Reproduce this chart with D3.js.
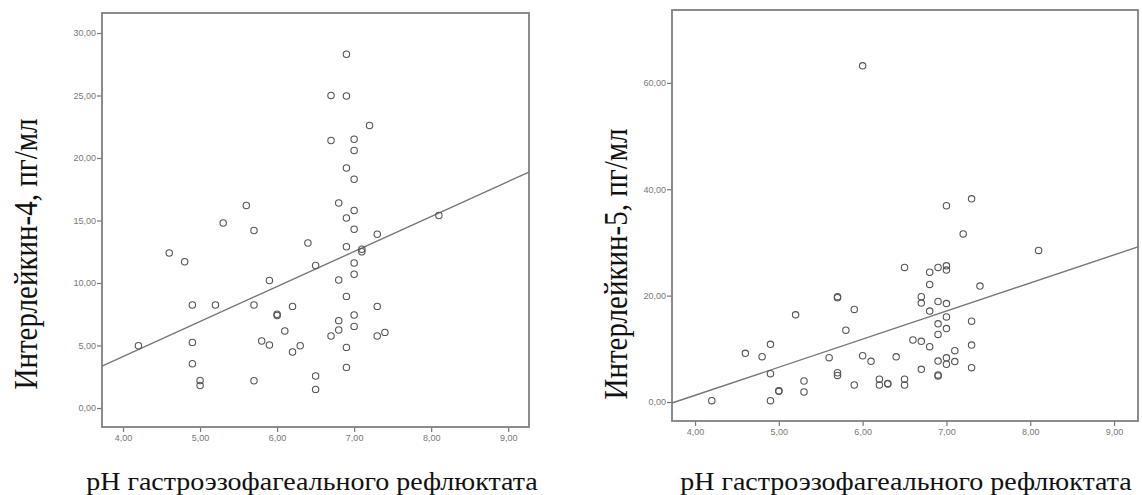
<!DOCTYPE html>
<html lang="ru">
<head>
<meta charset="UTF-8">
<title>Интерлейкины и pH рефлюктата</title>
<style>
  body { margin: 0; background: #fff; }
  .tick text { font-family: "Liberation Sans", Arial, sans-serif; font-size: 9px; fill: #777; }
  .tick line { stroke: #777; stroke-width: 1.2; }
  .frame { fill: none; stroke: #808080; stroke-width: 1.8; }
  .pt { fill: none; stroke: #555; stroke-width: 1.1; }
  .fit { stroke: #777; stroke-width: 1.4; }
  .title { font-family: "Liberation Serif", "Times New Roman", serif; fill: #111; }
</style>
</head>
<body>
<svg width="1142" height="495"></svg>
<script src="https://d3js.org/d3.v7.min.js"></script>
<script>
// pH рефлюктата и ИЛ-4 (левый график)
const il4X = [4.2, 4.6, 4.8, 4.9, 4.9, 4.9, 5.0, 5.0, 5.2, 5.3, 5.6, 5.7, 5.7, 5.7, 5.9, 5.8, 5.9, 6.0, 6.0, 6.1,
              6.2, 6.2, 6.3, 6.4, 6.5, 6.5, 6.5, 6.9, 6.7, 6.9, 7.2, 6.7, 7.0, 7.0, 6.9, 7.0, 6.8, 7.0, 6.9, 7.0,
              7.3, 8.1, 6.9, 7.1, 7.1, 7.0, 6.8, 7.0, 6.9, 7.3, 6.8, 7.0, 6.8, 6.7, 7.0, 7.3, 7.4, 6.9, 6.9];
const il4Y = [4.98, 12.4, 11.7, 8.24, 5.25, 3.54, 2.2, 1.8, 8.24, 14.8, 16.2, 14.2, 8.24, 2.18, 10.2, 5.36, 5.04, 7.5, 7.4, 6.16,
              8.13, 4.48, 4.98, 13.2, 11.4, 2.56, 1.49, 28.3, 25.0, 24.96, 22.6, 21.4, 21.5, 20.6, 19.2, 18.3, 16.4, 15.8, 15.2, 14.3,
              13.9, 15.4, 12.9, 12.7, 12.5, 11.6, 10.24, 10.7, 8.93, 8.13, 6.99, 7.44, 6.24, 5.76, 6.53, 5.76, 6.05, 4.85, 3.25];

// pH рефлюктата и ИЛ-5 (правый график)
const il5X = [4.2, 4.6, 4.8, 4.9, 4.9, 4.9, 5.0, 5.0, 5.2, 5.3, 5.3, 5.6, 5.7, 5.7, 5.7, 5.7, 5.9, 5.8, 5.9, 6.0,
              6.1, 6.2, 6.2, 6.3, 6.3, 6.4, 6.5, 6.5, 6.5, 6.6, 6.7, 6.7, 6.7, 6.7, 6.8, 6.8, 6.8, 6.8, 6.9, 7.0,
              7.0, 6.9, 7.0, 7.0, 6.9, 7.0, 6.9, 6.9, 7.0, 7.0, 7.1, 7.1, 6.9, 6.9, 7.0, 7.3, 7.2, 7.4, 7.3, 7.3,
              7.3, 8.1, 6.0];
const il5Y = [0.25, 9.15, 8.52, 10.85, 5.33, 0.25, 2.0, 2.1, 16.4, 3.95, 1.88, 8.34, 19.8, 19.6, 5.5, 5.0, 17.4, 13.5, 3.2, 8.7,
              7.65, 4.3, 3.2, 3.5, 3.4, 8.5, 25.3, 4.3, 3.2, 11.66, 11.4, 19.8, 18.6, 6.15, 24.4, 22.1, 17.1, 10.4, 25.3, 25.6,
              24.8, 18.9, 18.5, 16.0, 14.7, 13.8, 12.7, 7.7, 8.3, 7.1, 7.6, 9.65, 5.1, 4.9, 36.9, 38.2, 31.6, 21.8, 15.2, 10.7,
              6.45, 28.5, 63.2];

// линии регрессии: [свободный член, наклон]
const il4Fit = [-7.08, 2.80];
const il5Fit = [-19.86, 5.28];

// деления осей
const xTicks = [4, 5, 6, 7, 8, 9];
const il4Ticks = [0, 5, 10, 15, 20, 25, 30];
const il5Ticks = [0, 20, 40, 60];

const xTitle = 'pH гастроэзофагеального рефлюктата';

const svg = d3.select('svg');
const fmt = d => d3.format('.2f')(d).replace('.', ',');

function drawPanel(p) {
  const x = d3.scaleLinear().domain(p.xDomain).range([p.left, p.right]);
  const y = d3.scaleLinear().domain(p.yDomain).range([p.bottom, p.top]);
  const g = svg.append('g');

  g.append('g')
    .attr('transform', `translate(${p.left},0)`)
    .call(d3.axisLeft(y).tickValues(p.yTicks).tickSize(5).tickPadding(1).tickFormat(fmt))
    .call(a => a.select('.domain').remove());

  g.append('g')
    .attr('transform', `translate(0,${p.bottom})`)
    .call(d3.axisBottom(x).tickValues(xTicks).tickSize(5).tickPadding(3).tickFormat(fmt))
    .call(a => a.select('.domain').remove());

  g.append('rect').attr('class', 'frame')
    .attr('x', p.left).attr('y', p.top)
    .attr('width', p.right - p.left).attr('height', p.bottom - p.top);

  // линия регрессии по всей ширине области
  const [b0, b1] = p.fit;
  g.append('line').attr('class', 'fit')
    .attr('x1', x(p.xDomain[0])).attr('y1', y(b0 + b1 * p.xDomain[0]))
    .attr('x2', x(p.xDomain[1])).attr('y2', y(b0 + b1 * p.xDomain[1]));

  g.selectAll('.pt').data(p.xs.map((v, i) => [v, p.ys[i]]))
    .enter().append('circle').attr('class', 'pt')
    .attr('cx', d => x(d[0])).attr('cy', d => y(d[1])).attr('r', 3.2);

  // подпись оси Y немного растянута по ширине, как в исходнике
  g.append('text').attr('class', 'title')
    .attr('transform', `translate(${p.yTitleX},${p.yTitleY}) rotate(-90) scale(1,1.15)`)
    .attr('text-anchor', 'middle').style('font-size', '29px')
    .text(p.yTitle);

  g.append('text').attr('class', 'title')
    .attr('transform', `translate(${p.xTitleX},490) scale(1.12,1)`)
    .attr('text-anchor', 'middle').style('font-size', '25px')
    .text(xTitle);
}

drawPanel({
  left: 102, right: 529, top: 13, bottom: 427,
  xDomain: [3.727, 9.27], yDomain: [-1.52, 31.6],
  yTicks: il4Ticks, xs: il4X, ys: il4Y, fit: il4Fit,
  yTitle: 'Интерлейкин-4, пг/мл', yTitleX: 37, yTitleY: 254, xTitleX: 312
});

drawPanel({
  left: 672, right: 1138, top: 10, bottom: 421,
  xDomain: [3.725, 9.286], yDomain: [-3.57, 73.7],
  yTicks: il5Ticks, xs: il5X, ys: il5Y, fit: il5Fit,
  yTitle: 'Интерлейкин-5, пг/мл', yTitleX: 627, yTitleY: 264, xTitleX: 906
});
</script>
</body>
</html>
